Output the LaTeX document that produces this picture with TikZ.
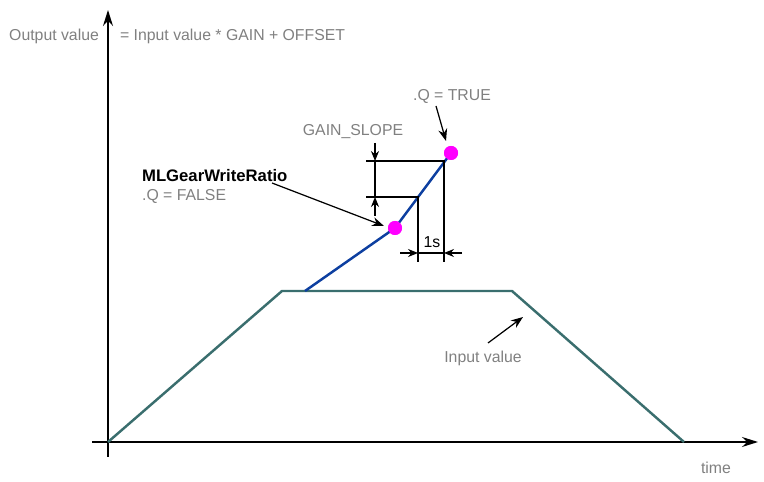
\documentclass[tikz,border=0pt]{standalone}
\usepackage{fontspec}
\setmainfont{Liberation Sans}
\usepackage{tikz}
\usetikzlibrary{arrows.meta,positioning}
\definecolor{inputcol}{HTML}{3A6E6E}
\definecolor{gearcol}{HTML}{0D3FA0}
\definecolor{dotcol}{HTML}{FF00FF}
\definecolor{textgray}{HTML}{808080}

\begin{document}
\begin{tikzpicture}[
  x=0.02cm, y=-0.02cm,
  font=\fontsize{9}{10}\selectfont,
  lbl/.style={text=textgray, inner sep=1pt},
  axis/.style={-{Stealth[length=3.2mm,width=2mm]}, line width=0.8pt, black},
  input/.style={line width=1.4pt, inputcol, line join=miter},
  gear/.style={line width=1.4pt, gearcol},
  dot/.style={circle, fill=dotcol, minimum size=0.28cm, inner sep=0pt},
  ext/.style={line width=0.6pt, black},
  dim/.style={-{Stealth[length=2mm,width=1.6mm]}, line width=0.6pt, black},
  pointer/.style={-{Stealth[length=2.4mm,width=1.8mm]}, line width=0.7pt, black}
]
\useasboundingbox (0,0) rectangle (764,482);
% axes
\coordinate (o) at (108,442);
\coordinate (ybot) at (108,457);
\coordinate (ytop) at (108,10);
\coordinate (xleft) at (92,442);
\coordinate (xright) at (758,442);
\draw[axis] (ybot) -- (ytop);
\draw[axis] (xleft) -- (xright);
\node[lbl, anchor=east] (outlbl) at (101,36) {Output value};
\node[lbl, anchor=west] (formula) at (118,36) {= Input value * GAIN + OFFSET};
\node[lbl] (timelbl) at (716,468) {time};
% input value
\coordinate (i1) at (282,291);
\coordinate (i2) at (512,291);
\coordinate (i3) at (684,442);
\draw[input] (o) -- (i1) -- (i2) -- (i3);
% gear ratio ramp
\coordinate (g0) at (305,291);
\node[dot] (qfalse) at (395,228) {};
\node[dot] (qtrue) at (451,153) {};
\draw[gear] (g0) -- (qfalse.center) -- (qtrue.center);
\node[dot] at (qfalse) {};
\node[dot] at (qtrue) {};
% dimension lines
\coordinate (t1) at (444,161);
\coordinate (k) at (418,197);
\coordinate (t1l) at (366,161);
\coordinate (kl) at (366,197);
\coordinate (t1d) at (444,262);
\coordinate (kd) at (418,262);
\draw[ext] (t1l) -- (t1) -- (t1d);
\draw[ext] (kl) -- (k) -- (kd);
\coordinate (sa) at (375,143);
\coordinate (sb) at (375,161);
\coordinate (sc) at (375,216);
\coordinate (sd) at (375,197);
\draw[dim] (sa) -- (sb);
\draw[dim] (sc) -- (sd);
\draw[ext] (sb) -- (sd);
\coordinate (ta) at (400,253);
\coordinate (tb) at (418,253);
\coordinate (tc) at (462,253);
\coordinate (td) at (444,253);
\draw[dim] (ta) -- (tb);
\draw[dim] (tc) -- (td);
\draw[ext] (tb) -- (td);
\node[lbl, text=black] (onesec) at (432,242) {1s};
\node[lbl] (slope) at (353,132) {GAIN\_SLOPE};
% annotations
\node[lbl] (truelbl) at (452,96) {.Q = TRUE};
\coordinate (truefrom) at (436,106);
\coordinate (trueto) at (446,141);
\draw[pointer] (truefrom) -- (trueto);
\node[anchor=west, inner sep=1pt, font=\fontsize{9.5}{10}\selectfont\bfseries] (ratio) at (140,176) {MLGearWriteRatio};
\node[lbl, anchor=west] (falselbl) at (140,196) {.Q = FALSE};
\coordinate (ratiofrom) at (272,183);
\coordinate (ratioto) at (384,226);
\draw[pointer] (ratiofrom) -- (ratioto);
\node[lbl] (inlbl) at (483,358) {Input value};
\coordinate (infrom) at (488,343);
\coordinate (into) at (523,317);
\draw[pointer] (infrom) -- (into);
\end{tikzpicture}
\end{document}
